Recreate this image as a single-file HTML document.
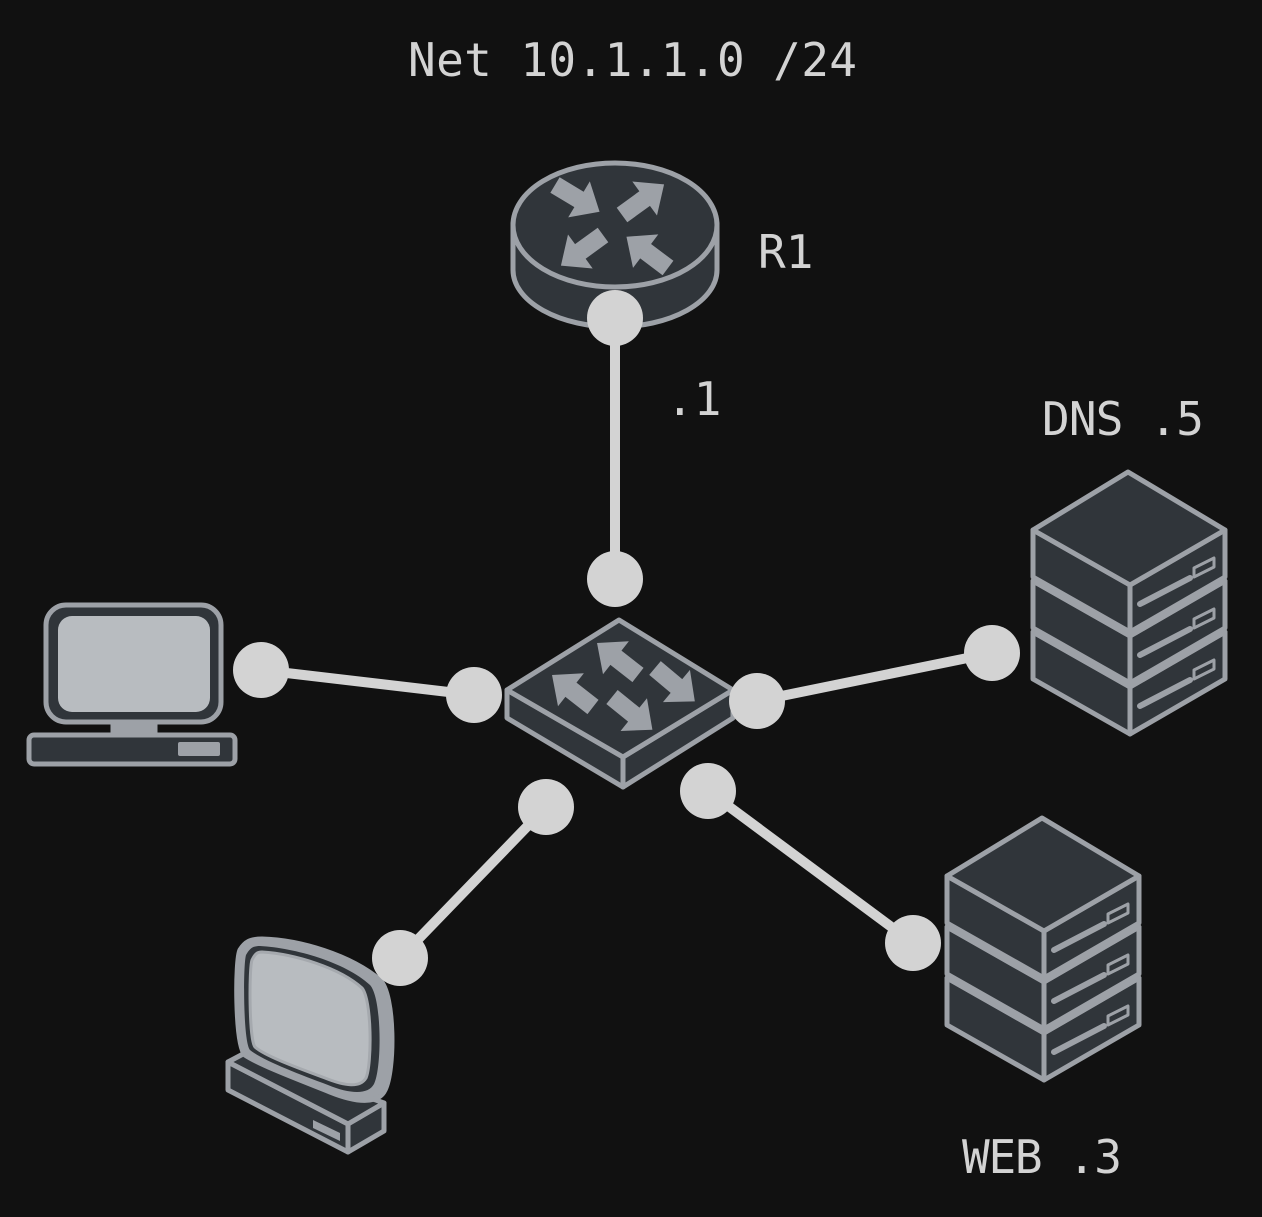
<!DOCTYPE html>
<html><head><meta charset="utf-8"><style>
html,body{margin:0;padding:0;background:#111111;}
svg{display:block;}
text{font-family:"DejaVu Sans Mono","Liberation Mono",monospace;fill:#d3d3d3;font-size:46px;}
</style></head><body>
<svg width="1262" height="1217" viewBox="0 0 1262 1217" xmlns="http://www.w3.org/2000/svg">
<rect width="1262" height="1217" fill="#111111"/>
<defs>
<g id="unit" stroke="#9da1a7" stroke-width="5" stroke-linejoin="round" fill="#30353a">
<polygon points="-95,58 2,113 2,160 -95,105"/>
<polygon points="2,113 97,58 97,105 2,160"/>
<polygon points="0,0 97,58 2,113 -95,58"/>
<line x1="12" y1="132" x2="62" y2="106" stroke-width="6" stroke-linecap="round"/>
<polygon points="66,96 86,86 86,95 66,105" fill="none" stroke-width="3"/>
</g>
<g id="server">
<use href="#unit" y="102"/>
<use href="#unit" y="51"/>
<use href="#unit"/>
</g>
<g id="arr"><polygon points="0,-9 28,-9 28,-21 52,0 28,21 28,9 0,9" fill="#9da1a7"/></g>
</defs>

<text x="408" y="76" textLength="449">Net 10.1.1.0 /24</text>
<text x="758" y="268">R1</text>
<text x="666" y="415">.1</text>
<text x="1042" y="435" textLength="162">DNS .5</text>
<text x="962" y="1173" textLength="160">WEB .3</text>

<g stroke="#d3d3d3" stroke-width="10" stroke-linecap="round">
<line x1="615" y1="318" x2="615" y2="579"/>
<line x1="261" y1="670" x2="474" y2="695"/>
<line x1="757" y1="701" x2="992" y2="653"/>
<line x1="546" y1="807" x2="400" y2="958"/>
<line x1="708" y1="791" x2="913" y2="943"/>
</g>

<g stroke="#9da1a7" stroke-width="5" fill="#30353a">
<path d="M513,225 L513,270 A102,57 0 0 0 717,270 L717,225 Z"/>
<ellipse cx="615" cy="225" rx="102" ry="62"/>
</g>
<use href="#arr" transform="translate(555,185) rotate(31)"/>
<use href="#arr" transform="translate(622,215) rotate(-36)"/>
<use href="#arr" transform="translate(603,235) rotate(144)"/>
<use href="#arr" transform="translate(668,268) rotate(-143)"/>

<g stroke="#9da1a7" stroke-width="5" stroke-linejoin="round" fill="#30353a">
<polygon points="507,690 623,757 623,787 507,718"/>
<polygon points="623,757 733,690 733,718 623,787"/>
<polygon points="619,620 733,690 623,757 507,690"/>
</g>
<use href="#arr" transform="translate(638,675) rotate(-142)"/>
<use href="#arr" transform="translate(593,707) rotate(-142)"/>
<use href="#arr" transform="translate(655,668) rotate(40)"/>
<use href="#arr" transform="translate(612,697) rotate(39)"/>

<use href="#server" x="1128" y="472"/>
<use href="#server" x="1042" y="818"/>

<g stroke="#9da1a7" stroke-width="5">
<rect x="113" y="718" width="42" height="18" fill="#9da1a7"/>
<rect x="46" y="605" width="175" height="117" rx="20" fill="#30353a"/>
<rect x="58" y="616" width="152" height="96" rx="14" fill="#b8bcc0" stroke="none"/>
<rect x="29" y="735" width="206" height="29" rx="5" fill="#30353a"/>
<rect x="178" y="742" width="42" height="14" rx="2" fill="#9da1a7" stroke="none"/>
</g>

<g stroke="#9da1a7" stroke-width="5" stroke-linejoin="round" fill="#30353a">
<polygon points="228,1062 348,1124 348,1152 228,1090"/>
<polygon points="348,1124 384,1103 384,1131 348,1152"/>
<polygon points="228,1062 245,1053 384,1103 348,1124"/>
<polygon points="313,1120 340,1133 340,1141 313,1128" fill="#9da1a7" stroke="none"/>
<path d="M262,939 C300,940 350,955 380,980 C395,995 395,1070 385,1090 C378,1105 355,1102 330,1092 C300,1080 260,1065 245,1055 C235,1045 235,960 240,950 C245,942 250,939 262,939 Z" fill="#9da1a7"/>
<path d="M260,946 C295,948 345,962 370,985 C382,998 382,1068 374,1084 C368,1095 350,1094 328,1085 C298,1074 262,1060 250,1050 C243,1042 243,965 246,955 C250,948 253,946 260,946 Z" fill="#30353a" stroke="none"/>
<path d="M262,952 C295,954 340,968 362,988 C372,1000 372,1064 366,1078 C360,1088 345,1086 325,1078 C298,1068 265,1056 255,1047 C249,1040 249,968 252,960 C255,954 257,952 262,952 Z" fill="#b8bcc0" stroke="#a5a9ae" stroke-width="3"/>
</g>

<g fill="#d3d3d3">
<circle cx="615" cy="318" r="28"/>
<circle cx="615" cy="579" r="28"/>
<circle cx="261" cy="670" r="28"/>
<circle cx="474" cy="695" r="28"/>
<circle cx="757" cy="701" r="28"/>
<circle cx="992" cy="653" r="28"/>
<circle cx="546" cy="807" r="28"/>
<circle cx="400" cy="958" r="28"/>
<circle cx="708" cy="791" r="28"/>
<circle cx="913" cy="943" r="28"/>
</g>
</svg>
</body></html>
